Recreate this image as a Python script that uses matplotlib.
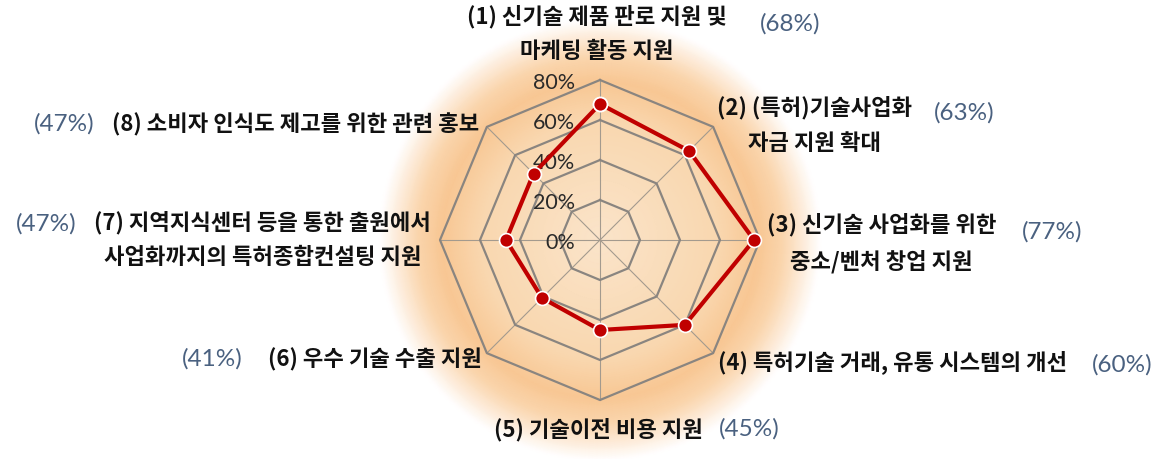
import matplotlib.pyplot as plt
import numpy as np
from matplotlib.colors import LinearSegmentedColormap

W, H = 1165, 459

# data
labels = [
    ["(1) 신기술 제품 판로 지원 및", "마케팅 활동 지원"],
    ["(2) (특허)기술사업화", "자금 지원 확대"],
    ["(3) 신기술 사업화를 위한", "중소/벤처 창업 지원"],
    ["(4) 특허기술 거래, 유통 시스템의 개선"],
    ["(5) 기술이전 비용 지원"],
    ["(6) 우수 기술 수출 지원"],
    ["(7) 지역지식센터 등을 통한 출원에서", "사업화까지의 특허종합컨설팅 지원"],
    ["(8) 소비자 인식도 제고를 위한 관련 홍보"],
]
values = [68, 63, 77, 60, 45, 41, 47, 47]
grid_levels = [0, 20, 40, 60, 80]
tick_labels = ["0%", "20%", "40%", "60%", "80%"]

# label placement (pixel centers, y from top)
label_pos = [
    [(597, 17), (597, 52)],
    [(815, 108), (814, 143)],
    [(882, 225), (881, 262)],
    [(893, 362)],
    [(598, 430)],
    [(375, 360)],
    [(262, 223), (263, 258)],
    [(296, 125)],
]
pct_pos = [(790, 24), (964, 113), (1052, 232), (1122, 365),
           (749, 429), (212, 359), (46, 224), (64, 124)]

fig = plt.figure(figsize=(W / 100, H / 100), dpi=100)
cx, cy, R = 600, 240, 240  # center px, axes radius px (r=120)
ax = fig.add_axes([(cx - R) / W, (H - cy - R) / H, 2 * R / W, 2 * R / H],
                  projection='polar')
ax.set_theta_zero_location('N')
ax.set_theta_direction(-1)
ax.set_ylim(0, 120)
ax.grid(False)
ax.set_xticks([])
ax.set_yticks([])
ax.spines['polar'].set_visible(False)
ax.patch.set_alpha(0)

# radial glow
glow = LinearSegmentedColormap.from_list('glow', [
    (0.0, '#fae4ca'), (0.5, '#f9d7af'), (0.66, '#f8c794'),
    (0.76, '#fad5ac'), (0.85, '#fdecda'), (0.92, '#ffffff'), (1.0, '#ffffff')])
th = np.linspace(0, 2 * np.pi, 181)
rr = np.linspace(0, 120, 121)
TH, RR = np.meshgrid(th, rr)
ax.pcolormesh(TH, RR, RR / 120, cmap=glow, shading='gouraud', zorder=0)

n = len(values)
theta = np.arange(n) * 2 * np.pi / n
tc = np.append(theta, theta[0])

for t in theta:
    ax.plot([t, t], [0, 80], color='#a39a8e', lw=0.8, zorder=1)
for lv in grid_levels[1:]:
    ax.plot(tc, [lv] * (n + 1), color='#8a8580', lw=1.6, zorder=2)

for lv, tl in zip(grid_levels, tick_labels):
    ax.annotate(tl, xy=(0, lv), xytext=(-25, -3), textcoords='offset pixels',
                ha='right', va='center', fontsize=15.5, color='#2a2a2a',
                family='Lato', zorder=3)

vc = np.append(values, values[0])
ax.plot(tc, vc, color='#c00000', lw=3, marker='o', ms=10,
        mfc='#c00000', mec='white', mew=1.2, zorder=4)

kfont = ['Noto Sans CJK KR', 'DejaVu Sans']
for lines, poss in zip(labels, label_pos):
    for s, (x, y) in zip(lines, poss):
        fig.text(x / W, 1 - y / H, s, ha='center', va='center', fontsize=16,
                 fontweight='bold', family=kfont, color='#111111')
for v, (x, y) in zip(values, pct_pos):
    fig.text(x / W, 1 - y / H, f"({v}%)", ha='center', va='center',
             fontsize=17.5, family='Lato', color='#4a6180')

fig.savefig('out.png', dpi=100)
